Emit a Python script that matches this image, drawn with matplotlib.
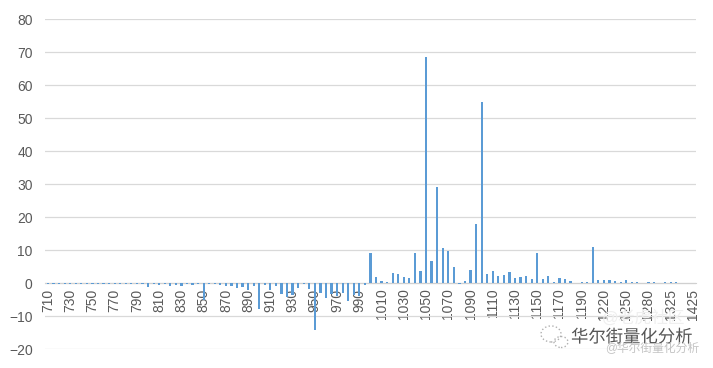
import numpy as np
import matplotlib
matplotlib.use('Agg')
import matplotlib.pyplot as plt
import matplotlib.patheffects as pe
from matplotlib.patches import Ellipse

plt.rcParams['font.family'] = ['Liberation Sans', 'Noto Sans CJK SC', 'DejaVu Sans']

# 行权价
strikes = list(range(710, 1205, 5)) + [1210, 1220, 1225, 1230, 1240, 1250, 1260, 1270, 1275,
                                        1280, 1290, 1300, 1310, 1325, 1350, 1375, 1400, 1425]

# 每个行权价对应的数值
values = [-0.2, -0.2, -0.2, -0.2, -0.2, -0.2, -0.2, -0.2, -0.2, -0.2,
          -0.2, -0.2, -0.2, -0.2, -0.2, -0.2, -0.2, -0.3, -1.3, -0.3,
          -0.5, -0.3, -0.8, -0.5, -0.8, -0.4, -0.5, -0.3, -5.0, -0.3,
          -0.3, -0.5, -0.8, -1.0, -1.6, -1.2, -2.0, -1.0, -7.8, -0.6,
          -2.0, -0.8, -3.2, -4.2, -3.5, -1.5, -0.3, -1.8, -14.2, -3.0,
          -4.6, -3.3, -4.0, -3.0, -5.6, -3.7, -4.0, -0.5, 9.0, 1.9,
          0.7, 0.3, 3.1, 2.8, 1.8, 1.5, 9.2, 3.7, 68.6, 6.7,
          29.2, 10.6, 9.8, 5.0, -0.2, 0.6, 4.0, 18.0, 54.9, 2.8,
          3.7, 2.2, 2.5, 3.4, 1.6, 1.7, 2.1, 1.2, 9.0, 1.2,
          2.1, 0.3, 1.5, 1.2, 0.6, 0.0, 0.3, 0.3, 11.0,
          0.9, 0.9, 0.9, 0.6, 0.3, 0.9, 0.4, 0.4, 0.0,
          0.3, 0.3, 0.0, 0.3, 0.3, 0.3, 0.0, 0.0, 0.0]

yticks = list(range(-20, 90, 10))

fig = plt.figure(figsize=(7.13, 3.68), dpi=100)
ax = fig.add_axes([0.0634, 0.0516, 0.9123, 0.8967])

# 横轴放在0的位置（先设置，否则会重置刻度）
for s in ['top', 'right', 'left']:
    ax.spines[s].set_visible(False)
ax.spines['bottom'].set_position(('data', 0))
ax.spines['bottom'].set_color('#d0d0d0')
ax.spines['bottom'].set_zorder(2)

x = np.arange(len(strikes))
ax.bar(x, values, width=0.4, color='#5B9BD5', zorder=3)

ax.set_xlim(-0.5, len(strikes) - 0.5)
ax.set_ylim(-20, 80)
ax.set_yticks(yticks)
ax.set_xticks(x[::4])
ax.set_xticklabels([str(s) for s in strikes[::4]])

# 网格线
ax.yaxis.grid(True, color='#d9d9d9', linewidth=0.9, zorder=0)
ax.tick_params(axis='both', length=0, labelsize=10, labelcolor='#595959')
ax.tick_params(axis='y', pad=9)
ax.tick_params(axis='x', pad=4, labelrotation=90)

# 水印
H = 368
fig.text(602 / 713, 1 - 318 / H, '@老虎社区', fontsize=12, color='#efefef', va='center', ha='left')
fig.text(571 / 713, 1 - 337 / H, '华尔街量化分析', fontsize=12.5, color='#555555', va='center', ha='left',
         path_effects=[pe.withStroke(linewidth=2.5, foreground='white')])
fig.text(605 / 713, 1 - 349 / H, '@华尔街量化分析', fontsize=8.5, color='#c4c4c4', va='center', ha='left')
fig.add_artist(Ellipse((551, H - 334), 20, 16, fill=False, ec='#b0b0b0', ls=':', lw=1.0, transform=None))
fig.add_artist(Ellipse((561, H - 342), 14, 11, fill=False, ec='#b0b0b0', ls=':', lw=1.0, transform=None))

fig.savefig('out.png', dpi=100)
